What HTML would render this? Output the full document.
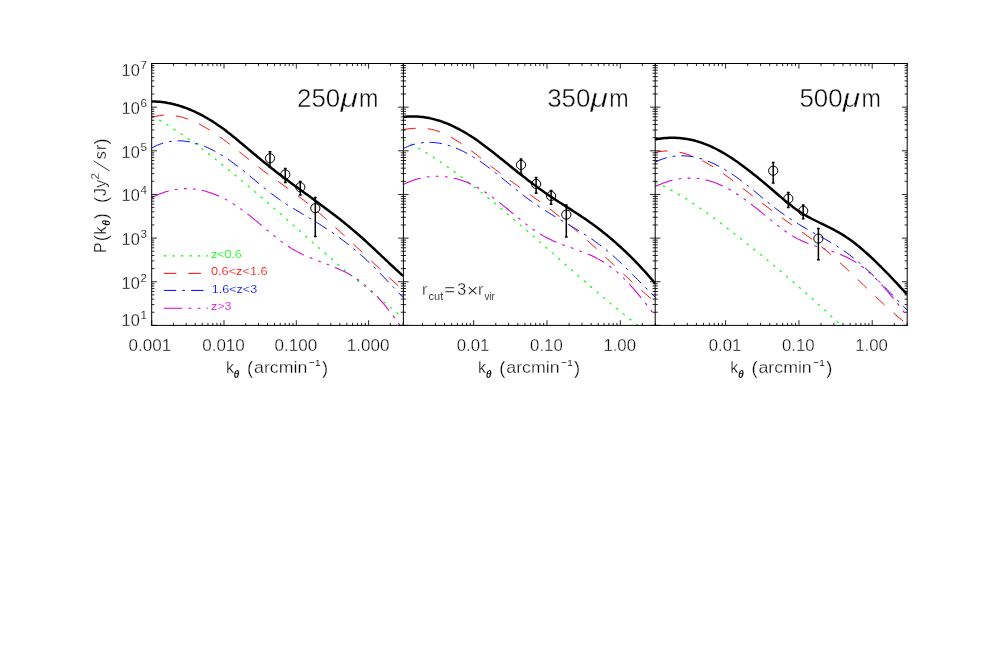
<!DOCTYPE html>
<html><head><meta charset="utf-8"><title>P(k) three bands</title>
<style>html,body{margin:0;padding:0;background:#fff;}body{width:1008px;height:654px;overflow:hidden;}svg{display:block;}text{font-family:"Liberation Sans",sans-serif;}</style>
</head><body>
<svg width="1008" height="654" viewBox="0 0 1008 654" style="will-change:transform">
<rect width="1008" height="654" fill="#fff"/>
<g>
<defs>
<clipPath id="cp0"><rect x="151.7" y="63.5" width="251.7" height="261.9"/></clipPath>
<clipPath id="cp1"><rect x="403.4" y="63.5" width="251.8" height="261.9"/></clipPath>
<clipPath id="cp2"><rect x="655.2" y="63.5" width="252.0" height="261.9"/></clipPath>
</defs>
<g clip-path="url(#cp0)" fill="none" stroke-linecap="butt" stroke-linejoin="round">
<path d="M151.7,115.8 L153.7,116.9 L155.7,118.0 L157.7,119.1 L159.7,120.3 L161.7,121.4 L163.7,122.6 L165.7,123.8 L167.7,125.0 L169.7,126.3 L171.7,127.6 L173.7,128.9 L175.7,130.2 L177.7,131.5 L179.7,132.8 L181.7,134.2 L183.7,135.6 L185.7,137.0 L187.7,138.4 L189.7,139.8 L191.7,141.2 L193.7,142.7 L195.7,144.1 L197.7,145.6 L199.7,147.1 L201.7,148.6 L203.7,150.1 L205.7,151.7 L207.7,153.2 L209.7,154.8 L211.7,156.3 L213.7,157.9 L215.7,159.5 L217.7,161.0 L219.7,162.6 L221.7,164.2 L223.7,165.8 L225.7,167.5 L227.7,169.1 L229.7,170.7 L231.7,172.3 L233.7,174.0 L235.7,175.6 L237.7,177.3 L239.7,178.9 L241.7,180.6 L243.7,182.2 L245.7,183.9 L247.7,185.6 L249.7,187.3 L251.7,189.0 L253.7,190.7 L255.7,192.4 L257.7,194.1 L259.7,195.8 L261.7,197.5 L263.7,199.2 L265.7,200.9 L267.7,202.7 L269.7,204.4 L271.7,206.2 L273.7,207.9 L275.7,209.7 L277.7,211.4 L279.7,213.2 L281.7,214.9 L283.7,216.7 L285.7,218.5 L287.7,220.2 L289.7,222.0 L291.7,223.8 L293.7,225.6 L295.7,227.4 L297.7,229.1 L299.7,230.9 L301.7,232.7 L303.7,234.5 L305.7,236.2 L307.7,238.0 L309.7,239.8 L311.7,241.6 L313.7,243.3 L315.7,245.1 L317.7,246.8 L319.7,248.6 L321.7,250.4 L323.7,252.1 L325.7,253.8 L327.7,255.6 L329.7,257.3 L331.7,259.0 L333.7,260.7 L335.7,262.4 L337.7,264.1 L339.7,265.8 L341.7,267.5 L343.7,269.2 L345.7,270.8 L347.7,272.5 L349.7,274.1 L351.7,275.8 L353.7,277.4 L355.7,279.1 L357.7,280.7 L359.7,282.3 L361.7,284.0 L363.7,285.6 L365.7,287.2 L367.7,288.9 L369.7,290.5 L371.7,292.1 L373.7,293.7 L375.7,295.4 L377.7,297.0 L379.7,298.6 L381.7,300.2 L383.7,301.9 L385.7,303.5 L387.7,305.2 L389.7,306.8 L391.7,308.4 L393.7,310.1 L395.7,311.8 L397.7,313.4 L399.7,315.1 L401.7,316.8 L403.1,318.0" stroke="#00ff00" stroke-width="1.2" stroke-dasharray="2.4 6.1"/>
<path d="M151.7,117.4 L153.7,116.8 L155.7,116.3 L157.7,115.9 L159.7,115.6 L161.7,115.3 L163.7,115.1 L165.7,115.1 L167.7,115.1 L169.7,115.1 L171.7,115.3 L173.7,115.5 L175.7,115.8 L177.7,116.2 L179.7,116.6 L181.7,117.1 L183.7,117.7 L185.7,118.3 L187.7,119.0 L189.7,119.8 L191.7,120.6 L193.7,121.4 L195.7,122.3 L197.7,123.3 L199.7,124.3 L201.7,125.4 L203.7,126.5 L205.7,127.7 L207.7,128.9 L209.7,130.1 L211.7,131.4 L213.7,132.7 L215.7,134.0 L217.7,135.4 L219.7,136.8 L221.7,138.2 L223.7,139.7 L225.7,141.2 L227.7,142.7 L229.7,144.2 L231.7,145.8 L233.7,147.3 L235.7,148.9 L237.7,150.5 L239.7,152.1 L241.7,153.7 L243.7,155.3 L245.7,156.9 L247.7,158.5 L249.7,160.1 L251.7,161.7 L253.7,163.3 L255.7,164.9 L257.7,166.4 L259.7,168.0 L261.7,169.5 L263.7,171.0 L265.7,172.5 L267.7,174.0 L269.7,175.5 L271.7,176.9 L273.7,178.4 L275.7,179.8 L277.7,181.2 L279.7,182.6 L281.7,184.0 L283.7,185.5 L285.7,186.9 L287.7,188.3 L289.7,189.7 L291.7,191.2 L293.7,192.6 L295.7,194.1 L297.7,195.6 L299.7,197.1 L301.7,198.7 L303.7,200.2 L305.7,201.8 L307.7,203.4 L309.7,205.1 L311.7,206.7 L313.7,208.4 L315.7,210.0 L317.7,211.7 L319.7,213.5 L321.7,215.2 L323.7,216.9 L325.7,218.7 L327.7,220.5 L329.7,222.2 L331.7,224.0 L333.7,225.8 L335.7,227.6 L337.7,229.5 L339.7,231.3 L341.7,233.2 L343.7,235.0 L345.7,236.9 L347.7,238.7 L349.7,240.6 L351.7,242.5 L353.7,244.3 L355.7,246.2 L357.7,248.1 L359.7,250.0 L361.7,251.9 L363.7,253.8 L365.7,255.7 L367.7,257.5 L369.7,259.4 L371.7,261.3 L373.7,263.2 L375.7,265.1 L377.7,266.9 L379.7,268.8 L381.7,270.7 L383.7,272.5 L385.7,274.4 L387.7,276.2 L389.7,278.0 L391.7,279.9 L393.7,281.7 L395.7,283.5 L397.7,285.3 L399.7,287.0 L401.7,288.8 L403.4,290.3" stroke="#ff0000" stroke-width="1.0" stroke-dasharray="12.5 12"/>
<path d="M151.7,148.0 L153.7,147.0 L155.7,146.0 L157.7,145.1 L159.7,144.3 L161.7,143.6 L163.7,143.0 L165.7,142.4 L167.7,142.0 L169.7,141.6 L171.7,141.3 L173.7,141.1 L175.7,140.9 L177.7,140.8 L179.7,140.8 L181.7,140.9 L183.7,141.0 L185.7,141.3 L187.7,141.5 L189.7,141.9 L191.7,142.3 L193.7,142.7 L195.7,143.3 L197.7,143.9 L199.7,144.5 L201.7,145.2 L203.7,146.0 L205.7,146.8 L207.7,147.7 L209.7,148.6 L211.7,149.6 L213.7,150.6 L215.7,151.7 L217.7,152.8 L219.7,154.0 L221.7,155.2 L223.7,156.4 L225.7,157.7 L227.7,159.1 L229.7,160.4 L231.7,161.9 L233.7,163.3 L235.7,164.8 L237.7,166.3 L239.7,167.9 L241.7,169.4 L243.7,171.0 L245.7,172.7 L247.7,174.3 L249.7,175.9 L251.7,177.6 L253.7,179.2 L255.7,180.9 L257.7,182.6 L259.7,184.2 L261.7,185.9 L263.7,187.5 L265.7,189.1 L267.7,190.7 L269.7,192.3 L271.7,193.8 L273.7,195.3 L275.7,196.8 L277.7,198.2 L279.7,199.7 L281.7,201.0 L283.7,202.4 L285.7,203.7 L287.7,205.0 L289.7,206.2 L291.7,207.5 L293.7,208.7 L295.7,209.9 L297.7,211.1 L299.7,212.3 L301.7,213.5 L303.7,214.7 L305.7,215.9 L307.7,217.0 L309.7,218.2 L311.7,219.4 L313.7,220.6 L315.7,221.8 L317.7,223.1 L319.7,224.3 L321.7,225.6 L323.7,226.9 L325.7,228.2 L327.7,229.5 L329.7,230.8 L331.7,232.2 L333.7,233.6 L335.7,235.0 L337.7,236.4 L339.7,237.9 L341.7,239.4 L343.7,240.9 L345.7,242.4 L347.7,243.9 L349.7,245.5 L351.7,247.1 L353.7,248.8 L355.7,250.5 L357.7,252.1 L359.7,253.9 L361.7,255.6 L363.7,257.4 L365.7,259.2 L367.7,261.1 L369.7,263.0 L371.7,264.9 L373.7,266.9 L375.7,268.8 L377.7,270.8 L379.7,272.9 L381.7,274.9 L383.7,277.0 L385.7,279.1 L387.7,281.2 L389.7,283.3 L391.7,285.4 L393.7,287.5 L395.7,289.6 L397.7,291.7 L399.7,293.9 L401.7,296.0 L403.4,297.8" stroke="#0000ff" stroke-width="1.0" stroke-dasharray="12.4 6.0 2.8 6.0"/>
<path d="M151.7,197.7 L153.7,196.7 L155.7,195.7 L157.7,194.8 L159.7,193.9 L161.7,193.2 L163.7,192.4 L165.7,191.8 L167.7,191.2 L169.7,190.7 L171.7,190.2 L173.7,189.8 L175.7,189.4 L177.7,189.2 L179.7,188.9 L181.7,188.8 L183.7,188.7 L185.7,188.6 L187.7,188.6 L189.7,188.7 L191.7,188.8 L193.7,189.0 L195.7,189.2 L197.7,189.5 L199.7,189.9 L201.7,190.3 L203.7,190.8 L205.7,191.3 L207.7,191.9 L209.7,192.5 L211.7,193.2 L213.7,193.9 L215.7,194.7 L217.7,195.5 L219.7,196.4 L221.7,197.4 L223.7,198.4 L225.7,199.4 L227.7,200.5 L229.7,201.7 L231.7,202.9 L233.7,204.1 L235.7,205.4 L237.7,206.8 L239.7,208.2 L241.7,209.6 L243.7,211.1 L245.7,212.6 L247.7,214.1 L249.7,215.7 L251.7,217.3 L253.7,218.9 L255.7,220.6 L257.7,222.2 L259.7,223.9 L261.7,225.5 L263.7,227.2 L265.7,228.9 L267.7,230.6 L269.7,232.3 L271.7,233.9 L273.7,235.5 L275.7,237.2 L277.7,238.7 L279.7,240.3 L281.7,241.8 L283.7,243.3 L285.7,244.7 L287.7,246.0 L289.7,247.3 L291.7,248.6 L293.7,249.7 L295.7,250.9 L297.7,251.9 L299.7,253.0 L301.7,253.9 L303.7,254.9 L305.7,255.8 L307.7,256.7 L309.7,257.5 L311.7,258.3 L313.7,259.1 L315.7,259.9 L317.7,260.7 L319.7,261.4 L321.7,262.2 L323.7,262.9 L325.7,263.7 L327.7,264.5 L329.7,265.2 L331.7,266.0 L333.7,266.9 L335.7,267.7 L337.7,268.5 L339.7,269.4 L341.7,270.4 L343.7,271.3 L345.7,272.3 L347.7,273.4 L349.7,274.5 L351.7,275.7 L353.7,276.9 L355.7,278.2 L357.7,279.5 L359.7,280.9 L361.7,282.4 L363.7,284.0 L365.7,285.6 L367.7,287.4 L369.7,289.2 L371.7,291.1 L373.7,293.1 L375.7,295.1 L377.7,297.2 L379.7,299.4 L381.7,301.7 L383.7,304.0 L385.7,306.4 L387.7,308.9 L389.7,311.4 L391.7,314.0 L393.7,316.6 L395.7,319.3 L397.7,322.0 L399.7,324.8 L401.0,326.7" stroke="#d000d0" stroke-width="1.05" stroke-dasharray="18.4 6.2 2.8 6.3 2.8 6.3 2.8 6.2"/>
<path d="M151.7,101.4 L153.7,101.4 L155.7,101.5 L157.7,101.7 L159.7,101.8 L161.7,102.0 L163.7,102.3 L165.7,102.6 L167.7,103.0 L169.7,103.3 L171.7,103.8 L173.7,104.2 L175.7,104.8 L177.7,105.3 L179.7,105.9 L181.7,106.5 L183.7,107.2 L185.7,107.9 L187.7,108.7 L189.7,109.5 L191.7,110.4 L193.7,111.2 L195.7,112.2 L197.7,113.1 L199.7,114.1 L201.7,115.2 L203.7,116.2 L205.7,117.4 L207.7,118.5 L209.7,119.7 L211.7,120.9 L213.7,122.2 L215.7,123.5 L217.7,124.9 L219.7,126.3 L221.7,127.7 L223.7,129.1 L225.7,130.6 L227.7,132.2 L229.7,133.7 L231.7,135.3 L233.7,136.9 L235.7,138.5 L237.7,140.2 L239.7,141.9 L241.7,143.5 L243.7,145.2 L245.7,146.9 L247.7,148.6 L249.7,150.3 L251.7,152.0 L253.7,153.7 L255.7,155.3 L257.7,157.0 L259.7,158.6 L261.7,160.3 L263.7,161.9 L265.7,163.5 L267.7,165.1 L269.7,166.7 L271.7,168.3 L273.7,169.8 L275.7,171.4 L277.7,172.9 L279.7,174.5 L281.7,176.0 L283.7,177.5 L285.7,179.0 L287.7,180.5 L289.7,182.0 L291.7,183.4 L293.7,184.9 L295.7,186.4 L297.7,187.8 L299.7,189.3 L301.7,190.8 L303.7,192.2 L305.7,193.7 L307.7,195.1 L309.7,196.6 L311.7,198.0 L313.7,199.5 L315.7,201.0 L317.7,202.4 L319.7,203.9 L321.7,205.4 L323.7,206.9 L325.7,208.4 L327.7,209.9 L329.7,211.4 L331.7,212.9 L333.7,214.5 L335.7,216.0 L337.7,217.6 L339.7,219.1 L341.7,220.7 L343.7,222.3 L345.7,223.9 L347.7,225.6 L349.7,227.2 L351.7,228.9 L353.7,230.6 L355.7,232.3 L357.7,234.0 L359.7,235.7 L361.7,237.5 L363.7,239.3 L365.7,241.1 L367.7,242.9 L369.7,244.8 L371.7,246.6 L373.7,248.5 L375.7,250.4 L377.7,252.3 L379.7,254.2 L381.7,256.1 L383.7,257.9 L385.7,259.8 L387.7,261.7 L389.7,263.6 L391.7,265.5 L393.7,267.3 L395.7,269.2 L397.7,271.0 L399.7,272.9 L401.7,274.7 L403.1,275.9" stroke="#000000" stroke-width="2.5"/>
</g>
<g clip-path="url(#cp1)" fill="none" stroke-linecap="butt" stroke-linejoin="round">
<path d="M403.4,139.7 L405.4,140.7 L407.4,141.8 L409.4,142.9 L411.4,144.0 L413.4,145.1 L415.4,146.3 L417.4,147.4 L419.4,148.6 L421.4,149.8 L423.4,151.0 L425.4,152.2 L427.4,153.5 L429.4,154.8 L431.4,156.0 L433.4,157.3 L435.4,158.6 L437.4,160.0 L439.4,161.3 L441.4,162.7 L443.4,164.0 L445.4,165.4 L447.4,166.8 L449.4,168.2 L451.4,169.6 L453.4,171.1 L455.4,172.5 L457.4,174.0 L459.4,175.4 L461.4,176.9 L463.4,178.4 L465.4,179.9 L467.4,181.5 L469.4,183.0 L471.4,184.5 L473.4,186.1 L475.4,187.7 L477.4,189.2 L479.4,190.8 L481.4,192.4 L483.4,194.0 L485.4,195.6 L487.4,197.2 L489.4,198.9 L491.4,200.5 L493.4,202.1 L495.4,203.8 L497.4,205.5 L499.4,207.1 L501.4,208.8 L503.4,210.5 L505.4,212.2 L507.4,213.9 L509.4,215.6 L511.4,217.3 L513.4,219.0 L515.4,220.7 L517.4,222.4 L519.4,224.1 L521.4,225.9 L523.4,227.6 L525.4,229.3 L527.4,231.1 L529.4,232.8 L531.4,234.6 L533.4,236.3 L535.4,238.1 L537.4,239.8 L539.4,241.6 L541.4,243.3 L543.4,245.1 L545.4,246.9 L547.4,248.6 L549.4,250.4 L551.4,252.2 L553.4,253.9 L555.4,255.7 L557.4,257.4 L559.4,259.2 L561.4,261.0 L563.4,262.7 L565.4,264.5 L567.4,266.3 L569.4,268.0 L571.4,269.8 L573.4,271.5 L575.4,273.3 L577.4,275.0 L579.4,276.8 L581.4,278.5 L583.4,280.3 L585.4,282.0 L587.4,283.7 L589.4,285.5 L591.4,287.2 L593.4,288.9 L595.4,290.6 L597.4,292.3 L599.4,294.0 L601.4,295.7 L603.4,297.4 L605.4,299.1 L607.4,300.8 L609.4,302.4 L611.4,304.1 L613.4,305.8 L615.4,307.4 L617.4,309.0 L619.4,310.7 L621.4,312.3 L623.4,313.9 L625.4,315.5 L627.4,317.1 L629.4,318.7 L631.4,320.3 L633.4,321.9 L635.4,323.4 L637.4,325.0 L639.0,326.2" stroke="#00ff00" stroke-width="1.2" stroke-dasharray="2.4 6.1"/>
<path d="M403.4,129.5 L405.4,129.2 L407.4,129.0 L409.4,128.7 L411.4,128.5 L413.4,128.4 L415.4,128.3 L417.4,128.2 L419.4,128.2 L421.4,128.2 L423.4,128.3 L425.4,128.5 L427.4,128.7 L429.4,129.0 L431.4,129.4 L433.4,129.8 L435.4,130.4 L437.4,131.0 L439.4,131.7 L441.4,132.5 L443.4,133.4 L445.4,134.3 L447.4,135.3 L449.4,136.3 L451.4,137.4 L453.4,138.6 L455.4,139.8 L457.4,141.0 L459.4,142.3 L461.4,143.6 L463.4,145.0 L465.4,146.4 L467.4,147.9 L469.4,149.3 L471.4,150.8 L473.4,152.4 L475.4,153.9 L477.4,155.4 L479.4,157.0 L481.4,158.6 L483.4,160.2 L485.4,161.7 L487.4,163.3 L489.4,164.9 L491.4,166.5 L493.4,168.0 L495.4,169.6 L497.4,171.1 L499.4,172.6 L501.4,174.1 L503.4,175.6 L505.4,177.1 L507.4,178.5 L509.4,180.0 L511.4,181.4 L513.4,182.8 L515.4,184.3 L517.4,185.7 L519.4,187.1 L521.4,188.5 L523.4,190.0 L525.4,191.4 L527.4,192.8 L529.4,194.2 L531.4,195.6 L533.4,197.0 L535.4,198.5 L537.4,199.9 L539.4,201.4 L541.4,202.8 L543.4,204.3 L545.4,205.7 L547.4,207.2 L549.4,208.7 L551.4,210.2 L553.4,211.8 L555.4,213.3 L557.4,214.9 L559.4,216.5 L561.4,218.1 L563.4,219.7 L565.4,221.4 L567.4,223.0 L569.4,224.7 L571.4,226.4 L573.4,228.1 L575.4,229.8 L577.4,231.6 L579.4,233.4 L581.4,235.1 L583.4,236.9 L585.4,238.7 L587.4,240.5 L589.4,242.3 L591.4,244.2 L593.4,246.0 L595.4,247.8 L597.4,249.7 L599.4,251.5 L601.4,253.4 L603.4,255.2 L605.4,257.1 L607.4,259.0 L609.4,260.8 L611.4,262.7 L613.4,264.6 L615.4,266.5 L617.4,268.3 L619.4,270.2 L621.4,272.0 L623.4,273.9 L625.4,275.7 L627.4,277.6 L629.4,279.4 L631.4,281.3 L633.4,283.1 L635.4,284.9 L637.4,286.7 L639.4,288.5 L641.4,290.3 L643.4,292.0 L645.4,293.8 L647.4,295.5 L649.4,297.2 L651.4,298.9 L653.4,300.6 L655.2,302.1" stroke="#ff0000" stroke-width="1.0" stroke-dasharray="12.5 12"/>
<path d="M403.4,148.4 L405.4,147.5 L407.4,146.6 L409.4,145.8 L411.4,145.1 L413.4,144.5 L415.4,144.0 L417.4,143.5 L419.4,143.1 L421.4,142.8 L423.4,142.6 L425.4,142.4 L427.4,142.3 L429.4,142.3 L431.4,142.4 L433.4,142.5 L435.4,142.7 L437.4,142.9 L439.4,143.2 L441.4,143.6 L443.4,144.0 L445.4,144.5 L447.4,145.1 L449.4,145.7 L451.4,146.4 L453.4,147.1 L455.4,147.9 L457.4,148.7 L459.4,149.6 L461.4,150.5 L463.4,151.5 L465.4,152.5 L467.4,153.6 L469.4,154.7 L471.4,155.9 L473.4,157.1 L475.4,158.3 L477.4,159.6 L479.4,160.9 L481.4,162.3 L483.4,163.7 L485.4,165.1 L487.4,166.6 L489.4,168.1 L491.4,169.6 L493.4,171.2 L495.4,172.8 L497.4,174.4 L499.4,176.0 L501.4,177.6 L503.4,179.2 L505.4,180.9 L507.4,182.5 L509.4,184.1 L511.4,185.8 L513.4,187.4 L515.4,189.0 L517.4,190.6 L519.4,192.2 L521.4,193.8 L523.4,195.4 L525.4,196.9 L527.4,198.4 L529.4,199.9 L531.4,201.3 L533.4,202.7 L535.4,204.1 L537.4,205.5 L539.4,206.8 L541.4,208.1 L543.4,209.4 L545.4,210.7 L547.4,211.9 L549.4,213.2 L551.4,214.4 L553.4,215.6 L555.4,216.8 L557.4,218.0 L559.4,219.2 L561.4,220.4 L563.4,221.6 L565.4,222.7 L567.4,223.9 L569.4,225.1 L571.4,226.3 L573.4,227.5 L575.4,228.7 L577.4,229.9 L579.4,231.1 L581.4,232.3 L583.4,233.6 L585.4,234.9 L587.4,236.2 L589.4,237.5 L591.4,238.9 L593.4,240.2 L595.4,241.7 L597.4,243.1 L599.4,244.6 L601.4,246.1 L603.4,247.7 L605.4,249.3 L607.4,250.9 L609.4,252.6 L611.4,254.4 L613.4,256.1 L615.4,257.9 L617.4,259.8 L619.4,261.6 L621.4,263.5 L623.4,265.5 L625.4,267.4 L627.4,269.4 L629.4,271.4 L631.4,273.4 L633.4,275.4 L635.4,277.4 L637.4,279.4 L639.4,281.4 L641.4,283.5 L643.4,285.5 L645.4,287.5 L647.4,289.4 L649.4,291.4 L651.4,293.4 L653.4,295.3 L655.2,297.0" stroke="#0000ff" stroke-width="1.0" stroke-dasharray="12.4 6.0 2.8 6.0"/>
<path d="M403.4,184.4 L405.4,183.5 L407.4,182.6 L409.4,181.7 L411.4,181.0 L413.4,180.3 L415.4,179.6 L417.4,179.0 L419.4,178.5 L421.4,178.0 L423.4,177.6 L425.4,177.2 L427.4,176.9 L429.4,176.7 L431.4,176.5 L433.4,176.3 L435.4,176.3 L437.4,176.2 L439.4,176.3 L441.4,176.4 L443.4,176.5 L445.4,176.7 L447.4,177.0 L449.4,177.3 L451.4,177.7 L453.4,178.1 L455.4,178.6 L457.4,179.1 L459.4,179.7 L461.4,180.3 L463.4,181.0 L465.4,181.8 L467.4,182.6 L469.4,183.5 L471.4,184.4 L473.4,185.4 L475.4,186.4 L477.4,187.5 L479.4,188.6 L481.4,189.8 L483.4,191.0 L485.4,192.3 L487.4,193.6 L489.4,195.0 L491.4,196.5 L493.4,197.9 L495.4,199.4 L497.4,201.0 L499.4,202.6 L501.4,204.1 L503.4,205.8 L505.4,207.4 L507.4,209.0 L509.4,210.7 L511.4,212.3 L513.4,214.0 L515.4,215.6 L517.4,217.3 L519.4,218.9 L521.4,220.5 L523.4,222.1 L525.4,223.7 L527.4,225.2 L529.4,226.7 L531.4,228.1 L533.4,229.6 L535.4,230.9 L537.4,232.3 L539.4,233.5 L541.4,234.7 L543.4,235.9 L545.4,237.0 L547.4,238.0 L549.4,239.0 L551.4,240.0 L553.4,240.9 L555.4,241.7 L557.4,242.6 L559.4,243.4 L561.4,244.1 L563.4,244.9 L565.4,245.6 L567.4,246.4 L569.4,247.1 L571.4,247.8 L573.4,248.5 L575.4,249.2 L577.4,250.0 L579.4,250.7 L581.4,251.5 L583.4,252.2 L585.4,253.0 L587.4,253.9 L589.4,254.7 L591.4,255.6 L593.4,256.5 L595.4,257.5 L597.4,258.6 L599.4,259.6 L601.4,260.8 L603.4,262.0 L605.4,263.2 L607.4,264.6 L609.4,266.0 L611.4,267.4 L613.4,269.0 L615.4,270.6 L617.4,272.3 L619.4,274.1 L621.4,276.0 L623.4,278.0 L625.4,280.0 L627.4,282.0 L629.4,284.2 L631.4,286.4 L633.4,288.6 L635.4,290.9 L637.4,293.3 L639.4,295.7 L641.4,298.1 L643.4,300.6 L645.4,303.1 L647.4,305.7 L649.4,308.3 L651.4,310.9 L653.4,313.6 L655.2,316.0" stroke="#d000d0" stroke-width="1.05" stroke-dasharray="18.4 6.2 2.8 6.3 2.8 6.3 2.8 6.2"/>
<path d="M403.4,116.9 L405.4,116.7 L407.4,116.5 L409.4,116.4 L411.4,116.4 L413.4,116.4 L415.4,116.4 L417.4,116.5 L419.4,116.7 L421.4,116.9 L423.4,117.1 L425.4,117.4 L427.4,117.7 L429.4,118.1 L431.4,118.6 L433.4,119.1 L435.4,119.6 L437.4,120.2 L439.4,120.8 L441.4,121.4 L443.4,122.2 L445.4,122.9 L447.4,123.7 L449.4,124.5 L451.4,125.4 L453.4,126.4 L455.4,127.3 L457.4,128.3 L459.4,129.4 L461.4,130.5 L463.4,131.6 L465.4,132.8 L467.4,134.0 L469.4,135.2 L471.4,136.5 L473.4,137.8 L475.4,139.1 L477.4,140.5 L479.4,141.9 L481.4,143.4 L483.4,144.9 L485.4,146.4 L487.4,147.9 L489.4,149.4 L491.4,151.0 L493.4,152.6 L495.4,154.2 L497.4,155.7 L499.4,157.4 L501.4,159.0 L503.4,160.6 L505.4,162.2 L507.4,163.8 L509.4,165.4 L511.4,167.0 L513.4,168.7 L515.4,170.3 L517.4,171.9 L519.4,173.4 L521.4,175.0 L523.4,176.6 L525.4,178.1 L527.4,179.7 L529.4,181.2 L531.4,182.7 L533.4,184.3 L535.4,185.7 L537.4,187.2 L539.4,188.7 L541.4,190.1 L543.4,191.5 L545.4,192.9 L547.4,194.3 L549.4,195.7 L551.4,197.0 L553.4,198.4 L555.4,199.7 L557.4,201.0 L559.4,202.3 L561.4,203.5 L563.4,204.8 L565.4,206.1 L567.4,207.4 L569.4,208.6 L571.4,209.9 L573.4,211.2 L575.4,212.5 L577.4,213.8 L579.4,215.1 L581.4,216.4 L583.4,217.8 L585.4,219.1 L587.4,220.5 L589.4,221.9 L591.4,223.3 L593.4,224.8 L595.4,226.2 L597.4,227.7 L599.4,229.2 L601.4,230.8 L603.4,232.4 L605.4,234.0 L607.4,235.6 L609.4,237.3 L611.4,238.9 L613.4,240.7 L615.4,242.4 L617.4,244.2 L619.4,246.0 L621.4,247.8 L623.4,249.7 L625.4,251.5 L627.4,253.5 L629.4,255.4 L631.4,257.4 L633.4,259.4 L635.4,261.5 L637.4,263.5 L639.4,265.6 L641.4,267.8 L643.4,270.0 L645.4,272.2 L647.4,274.4 L649.4,276.7 L651.4,279.0 L653.4,281.3 L655.2,283.4" stroke="#000000" stroke-width="2.5"/>
</g>
<g clip-path="url(#cp2)" fill="none" stroke-linecap="butt" stroke-linejoin="round">
<path d="M655.2,182.2 L657.2,183.0 L659.2,184.0 L661.2,184.9 L663.2,185.9 L665.2,186.9 L667.2,187.9 L669.2,189.0 L671.2,190.1 L673.2,191.2 L675.2,192.3 L677.2,193.5 L679.2,194.7 L681.2,195.9 L683.2,197.1 L685.2,198.3 L687.2,199.6 L689.2,200.9 L691.2,202.2 L693.2,203.5 L695.2,204.8 L697.2,206.2 L699.2,207.6 L701.2,209.0 L703.2,210.4 L705.2,211.8 L707.2,213.2 L709.2,214.7 L711.2,216.1 L713.2,217.6 L715.2,219.1 L717.2,220.6 L719.2,222.1 L721.2,223.6 L723.2,225.1 L725.2,226.6 L727.2,228.2 L729.2,229.7 L731.2,231.3 L733.2,232.8 L735.2,234.4 L737.2,236.0 L739.2,237.5 L741.2,239.1 L743.2,240.7 L745.2,242.3 L747.2,243.9 L749.2,245.5 L751.2,247.1 L753.2,248.7 L755.2,250.3 L757.2,251.9 L759.2,253.5 L761.2,255.1 L763.2,256.8 L765.2,258.4 L767.2,260.1 L769.2,261.7 L771.2,263.4 L773.2,265.0 L775.2,266.7 L777.2,268.4 L779.2,270.0 L781.2,271.7 L783.2,273.4 L785.2,275.1 L787.2,276.8 L789.2,278.5 L791.2,280.3 L793.2,282.0 L795.2,283.7 L797.2,285.5 L799.2,287.2 L801.2,289.0 L803.2,290.7 L805.2,292.5 L807.2,294.3 L809.2,296.0 L811.2,297.8 L813.2,299.6 L815.2,301.4 L817.2,303.3 L819.2,305.1 L821.2,306.9 L823.2,308.7 L825.2,310.6 L827.2,312.4 L829.2,314.3 L831.2,316.2 L833.2,318.0 L835.2,319.9 L837.2,321.8 L839.2,323.7 L841.2,325.6 L841.5,325.9" stroke="#00ff00" stroke-width="1.2" stroke-dasharray="2.4 6.1"/>
<path d="M655.2,152.5 L657.2,152.0 L659.2,151.7 L661.2,151.4 L663.2,151.2 L665.2,151.0 L667.2,151.0 L669.2,151.0 L671.2,151.1 L673.2,151.2 L675.2,151.5 L677.2,151.8 L679.2,152.1 L681.2,152.6 L683.2,153.1 L685.2,153.6 L687.2,154.3 L689.2,154.9 L691.2,155.7 L693.2,156.4 L695.2,157.3 L697.2,158.2 L699.2,159.1 L701.2,160.1 L703.2,161.1 L705.2,162.2 L707.2,163.3 L709.2,164.5 L711.2,165.7 L713.2,166.9 L715.2,168.2 L717.2,169.5 L719.2,170.8 L721.2,172.2 L723.2,173.5 L725.2,175.0 L727.2,176.4 L729.2,177.9 L731.2,179.4 L733.2,180.9 L735.2,182.4 L737.2,184.0 L739.2,185.5 L741.2,187.1 L743.2,188.6 L745.2,190.2 L747.2,191.7 L749.2,193.3 L751.2,194.8 L753.2,196.3 L755.2,197.9 L757.2,199.4 L759.2,200.9 L761.2,202.4 L763.2,203.9 L765.2,205.4 L767.2,206.9 L769.2,208.4 L771.2,209.9 L773.2,211.4 L775.2,212.8 L777.2,214.3 L779.2,215.8 L781.2,217.2 L783.2,218.7 L785.2,220.1 L787.2,221.5 L789.2,223.0 L791.2,224.4 L793.2,225.8 L795.2,227.2 L797.2,228.7 L799.2,230.1 L801.2,231.5 L803.2,232.9 L805.2,234.3 L807.2,235.8 L809.2,237.2 L811.2,238.7 L813.2,240.2 L815.2,241.7 L817.2,243.3 L819.2,244.9 L821.2,246.5 L823.2,248.1 L825.2,249.7 L827.2,251.4 L829.2,253.1 L831.2,254.8 L833.2,256.6 L835.2,258.4 L837.2,260.2 L839.2,262.0 L841.2,263.8 L843.2,265.7 L845.2,267.5 L847.2,269.4 L849.2,271.3 L851.2,273.2 L853.2,275.1 L855.2,277.0 L857.2,278.9 L859.2,280.9 L861.2,282.8 L863.2,284.7 L865.2,286.7 L867.2,288.6 L869.2,290.5 L871.2,292.4 L873.2,294.3 L875.2,296.2 L877.2,298.1 L879.2,300.0 L881.2,301.9 L883.2,303.7 L885.2,305.6 L887.2,307.4 L889.2,309.2 L891.2,311.0 L893.2,312.7 L895.2,314.4 L897.2,316.1 L899.2,317.8 L901.2,319.4 L903.2,321.1 L905.2,322.6 L907.2,324.2" stroke="#ff0000" stroke-width="1.0" stroke-dasharray="12.5 12"/>
<path d="M655.2,162.1 L657.2,161.2 L659.2,160.3 L661.2,159.5 L663.2,158.8 L665.2,158.1 L667.2,157.6 L669.2,157.1 L671.2,156.7 L673.2,156.4 L675.2,156.1 L677.2,155.9 L679.2,155.8 L681.2,155.7 L683.2,155.8 L685.2,155.9 L687.2,156.0 L689.2,156.2 L691.2,156.5 L693.2,156.8 L695.2,157.2 L697.2,157.7 L699.2,158.2 L701.2,158.8 L703.2,159.4 L705.2,160.1 L707.2,160.9 L709.2,161.7 L711.2,162.5 L713.2,163.4 L715.2,164.4 L717.2,165.4 L719.2,166.4 L721.2,167.5 L723.2,168.6 L725.2,169.8 L727.2,171.0 L729.2,172.3 L731.2,173.6 L733.2,174.9 L735.2,176.3 L737.2,177.7 L739.2,179.2 L741.2,180.7 L743.2,182.2 L745.2,183.8 L747.2,185.3 L749.2,186.9 L751.2,188.5 L753.2,190.2 L755.2,191.8 L757.2,193.5 L759.2,195.1 L761.2,196.8 L763.2,198.5 L765.2,200.1 L767.2,201.7 L769.2,203.4 L771.2,205.0 L773.2,206.6 L775.2,208.1 L777.2,209.7 L779.2,211.1 L781.2,212.6 L783.2,214.0 L785.2,215.4 L787.2,216.8 L789.2,218.2 L791.2,219.5 L793.2,220.8 L795.2,222.0 L797.2,223.3 L799.2,224.5 L801.2,225.7 L803.2,226.9 L805.2,228.1 L807.2,229.2 L809.2,230.3 L811.2,231.4 L813.2,232.6 L815.2,233.7 L817.2,234.8 L819.2,235.9 L821.2,237.0 L823.2,238.1 L825.2,239.2 L827.2,240.3 L829.2,241.5 L831.2,242.7 L833.2,243.9 L835.2,245.1 L837.2,246.3 L839.2,247.6 L841.2,248.9 L843.2,250.3 L845.2,251.7 L847.2,253.2 L849.2,254.6 L851.2,256.2 L853.2,257.7 L855.2,259.3 L857.2,261.0 L859.2,262.7 L861.2,264.4 L863.2,266.2 L865.2,268.0 L867.2,269.8 L869.2,271.7 L871.2,273.6 L873.2,275.5 L875.2,277.5 L877.2,279.4 L879.2,281.4 L881.2,283.5 L883.2,285.5 L885.2,287.6 L887.2,289.6 L889.2,291.7 L891.2,293.7 L893.2,295.8 L895.2,297.9 L897.2,300.0 L899.2,302.0 L901.2,304.1 L903.2,306.1 L905.2,308.1 L907.2,310.2" stroke="#0000ff" stroke-width="1.0" stroke-dasharray="12.4 6.0 2.8 6.0"/>
<path d="M655.2,186.5 L657.2,185.5 L659.2,184.7 L661.2,183.9 L663.2,183.1 L665.2,182.4 L667.2,181.7 L669.2,181.1 L671.2,180.6 L673.2,180.1 L675.2,179.6 L677.2,179.2 L679.2,178.9 L681.2,178.6 L683.2,178.4 L685.2,178.2 L687.2,178.1 L689.2,178.1 L691.2,178.1 L693.2,178.1 L695.2,178.2 L697.2,178.4 L699.2,178.7 L701.2,179.0 L703.2,179.3 L705.2,179.8 L707.2,180.2 L709.2,180.8 L711.2,181.4 L713.2,182.0 L715.2,182.8 L717.2,183.5 L719.2,184.4 L721.2,185.3 L723.2,186.2 L725.2,187.2 L727.2,188.2 L729.2,189.3 L731.2,190.5 L733.2,191.6 L735.2,192.9 L737.2,194.2 L739.2,195.5 L741.2,196.9 L743.2,198.3 L745.2,199.7 L747.2,201.2 L749.2,202.7 L751.2,204.2 L753.2,205.8 L755.2,207.3 L757.2,208.9 L759.2,210.5 L761.2,212.2 L763.2,213.8 L765.2,215.4 L767.2,217.1 L769.2,218.7 L771.2,220.4 L773.2,222.0 L775.2,223.6 L777.2,225.2 L779.2,226.7 L781.2,228.3 L783.2,229.8 L785.2,231.2 L787.2,232.6 L789.2,233.9 L791.2,235.2 L793.2,236.4 L795.2,237.5 L797.2,238.6 L799.2,239.6 L801.2,240.5 L803.2,241.4 L805.2,242.3 L807.2,243.1 L809.2,243.8 L811.2,244.6 L813.2,245.3 L815.2,246.0 L817.2,246.6 L819.2,247.3 L821.2,247.9 L823.2,248.6 L825.2,249.2 L827.2,249.8 L829.2,250.5 L831.2,251.1 L833.2,251.8 L835.2,252.5 L837.2,253.3 L839.2,254.0 L841.2,254.8 L843.2,255.7 L845.2,256.6 L847.2,257.5 L849.2,258.5 L851.2,259.6 L853.2,260.7 L855.2,261.9 L857.2,263.2 L859.2,264.5 L861.2,266.0 L863.2,267.5 L865.2,269.1 L867.2,270.7 L869.2,272.5 L871.2,274.3 L873.2,276.1 L875.2,278.1 L877.2,280.1 L879.2,282.1 L881.2,284.3 L883.2,286.5 L885.2,288.7 L887.2,291.0 L889.2,293.4 L891.2,295.8 L893.2,298.2 L895.2,300.7 L897.2,303.2 L899.2,305.8 L901.2,308.4 L903.2,311.0 L905.2,313.6 L906.9,315.9" stroke="#d000d0" stroke-width="1.05" stroke-dasharray="18.4 6.2 2.8 6.3 2.8 6.3 2.8 6.2"/>
<path d="M655.2,139.5 L657.2,139.1 L659.2,138.8 L661.2,138.5 L663.2,138.3 L665.2,138.1 L667.2,137.9 L669.2,137.8 L671.2,137.8 L673.2,137.8 L675.2,137.8 L677.2,137.9 L679.2,138.0 L681.2,138.2 L683.2,138.4 L685.2,138.7 L687.2,139.1 L689.2,139.4 L691.2,139.8 L693.2,140.3 L695.2,140.8 L697.2,141.4 L699.2,142.0 L701.2,142.6 L703.2,143.3 L705.2,144.1 L707.2,144.9 L709.2,145.7 L711.2,146.6 L713.2,147.5 L715.2,148.5 L717.2,149.5 L719.2,150.6 L721.2,151.7 L723.2,152.8 L725.2,154.0 L727.2,155.2 L729.2,156.5 L731.2,157.8 L733.2,159.1 L735.2,160.5 L737.2,161.8 L739.2,163.3 L741.2,164.7 L743.2,166.2 L745.2,167.7 L747.2,169.2 L749.2,170.7 L751.2,172.3 L753.2,173.9 L755.2,175.5 L757.2,177.1 L759.2,178.7 L761.2,180.4 L763.2,182.1 L765.2,183.7 L767.2,185.4 L769.2,187.1 L771.2,188.8 L773.2,190.5 L775.2,192.2 L777.2,194.0 L779.2,195.7 L781.2,197.4 L783.2,199.1 L785.2,200.8 L787.2,202.4 L789.2,204.0 L791.2,205.6 L793.2,207.2 L795.2,208.7 L797.2,210.1 L799.2,211.4 L801.2,212.7 L803.2,214.0 L805.2,215.2 L807.2,216.3 L809.2,217.4 L811.2,218.5 L813.2,219.5 L815.2,220.5 L817.2,221.5 L819.2,222.5 L821.2,223.5 L823.2,224.4 L825.2,225.4 L827.2,226.4 L829.2,227.4 L831.2,228.4 L833.2,229.4 L835.2,230.5 L837.2,231.6 L839.2,232.7 L841.2,233.9 L843.2,235.1 L845.2,236.4 L847.2,237.8 L849.2,239.1 L851.2,240.6 L853.2,242.1 L855.2,243.6 L857.2,245.2 L859.2,246.8 L861.2,248.5 L863.2,250.2 L865.2,251.9 L867.2,253.7 L869.2,255.5 L871.2,257.4 L873.2,259.2 L875.2,261.2 L877.2,263.1 L879.2,265.1 L881.2,267.0 L883.2,269.1 L885.2,271.1 L887.2,273.2 L889.2,275.2 L891.2,277.3 L893.2,279.5 L895.2,281.6 L897.2,283.7 L899.2,285.9 L901.2,288.1 L903.2,290.2 L905.2,292.4 L906.9,294.3" stroke="#000000" stroke-width="2.5"/>
</g>
<g fill="none" stroke="#000">
<circle cx="270.0" cy="158.3" r="4.6" stroke-width="1.0"/>
<path d="M270.0,151.8 V167.0 M268.6,151.8 h2.8 M268.6,167.0 h2.8" stroke-width="1.5"/>
<circle cx="285.3" cy="174.5" r="4.6" stroke-width="1.0"/>
<path d="M285.3,168.5 V182.5 M283.90000000000003,168.5 h2.8 M283.90000000000003,182.5 h2.8" stroke-width="1.5"/>
<circle cx="300.3" cy="187.2" r="4.6" stroke-width="1.0"/>
<path d="M300.3,181.4 V194.9 M298.90000000000003,181.4 h2.8 M298.90000000000003,194.9 h2.8" stroke-width="1.5"/>
<circle cx="315.3" cy="208.2" r="4.6" stroke-width="1.0"/>
<path d="M315.3,197.5 V236.4 M313.90000000000003,197.5 h2.8 M313.90000000000003,236.4 h2.8" stroke-width="1.5"/>
<circle cx="521.0" cy="164.9" r="4.6" stroke-width="1.0"/>
<path d="M521.0,159.0 V173.5 M519.6,159.0 h2.8 M519.6,173.5 h2.8" stroke-width="1.5"/>
<circle cx="536.1" cy="184.0" r="4.6" stroke-width="1.0"/>
<path d="M536.1,177.5 V193.2 M534.7,177.5 h2.8 M534.7,193.2 h2.8" stroke-width="1.5"/>
<circle cx="551.1" cy="196.0" r="4.6" stroke-width="1.0"/>
<path d="M551.1,190.6 V204.3 M549.7,190.6 h2.8 M549.7,204.3 h2.8" stroke-width="1.5"/>
<circle cx="566.3" cy="214.6" r="4.6" stroke-width="1.0"/>
<path d="M566.3,205.0 V237.1 M564.9,205.0 h2.8 M564.9,237.1 h2.8" stroke-width="1.5"/>
<circle cx="773.2" cy="170.7" r="4.6" stroke-width="1.0"/>
<path d="M773.2,162.5 V183.1 M771.8000000000001,162.5 h2.8 M771.8000000000001,183.1 h2.8" stroke-width="1.5"/>
<circle cx="788.3" cy="198.7" r="4.6" stroke-width="1.0"/>
<path d="M788.3,192.5 V207.6 M786.9,192.5 h2.8 M786.9,207.6 h2.8" stroke-width="1.5"/>
<circle cx="803.2" cy="210.9" r="4.6" stroke-width="1.0"/>
<path d="M803.2,204.9 V218.7 M801.8000000000001,204.9 h2.8 M801.8000000000001,218.7 h2.8" stroke-width="1.5"/>
<circle cx="818.4" cy="238.6" r="4.6" stroke-width="1.0"/>
<path d="M818.4,228.6 V259.7 M817.0,228.6 h2.8 M817.0,259.7 h2.8" stroke-width="1.5"/>
</g>
<path d="M151.7,325.40 h5.2 M151.7,312.26 h2.6 M151.7,304.57 h2.6 M151.7,299.12 h2.6 M151.7,294.89 h2.6 M151.7,291.43 h2.6 M151.7,288.51 h2.6 M151.7,285.98 h2.6 M151.7,283.75 h2.6 M151.7,281.75 h5.2 M151.7,268.61 h2.6 M151.7,260.92 h2.6 M151.7,255.47 h2.6 M151.7,251.24 h2.6 M151.7,247.78 h2.6 M151.7,244.86 h2.6 M151.7,242.33 h2.6 M151.7,240.10 h2.6 M151.7,238.10 h5.2 M151.7,224.96 h2.6 M151.7,217.27 h2.6 M151.7,211.82 h2.6 M151.7,207.59 h2.6 M151.7,204.13 h2.6 M151.7,201.21 h2.6 M151.7,198.68 h2.6 M151.7,196.45 h2.6 M151.7,194.45 h5.2 M151.7,181.31 h2.6 M151.7,173.62 h2.6 M151.7,168.17 h2.6 M151.7,163.94 h2.6 M151.7,160.48 h2.6 M151.7,157.56 h2.6 M151.7,155.03 h2.6 M151.7,152.80 h2.6 M151.7,150.80 h5.2 M151.7,137.66 h2.6 M151.7,129.97 h2.6 M151.7,124.52 h2.6 M151.7,120.29 h2.6 M151.7,116.83 h2.6 M151.7,113.91 h2.6 M151.7,111.38 h2.6 M151.7,109.15 h2.6 M151.7,107.15 h5.2 M151.7,94.01 h2.6 M151.7,86.32 h2.6 M151.7,80.87 h2.6 M151.7,76.64 h2.6 M151.7,73.18 h2.6 M151.7,70.26 h2.6 M151.7,67.73 h2.6 M151.7,65.50 h2.6 M151.7,63.50 h5.2 M403.4,325.40 h-5.2 M403.4,325.40 h5.2 M403.4,312.26 h-2.6 M403.4,312.26 h2.6 M403.4,304.57 h-2.6 M403.4,304.57 h2.6 M403.4,299.12 h-2.6 M403.4,299.12 h2.6 M403.4,294.89 h-2.6 M403.4,294.89 h2.6 M403.4,291.43 h-2.6 M403.4,291.43 h2.6 M403.4,288.51 h-2.6 M403.4,288.51 h2.6 M403.4,285.98 h-2.6 M403.4,285.98 h2.6 M403.4,283.75 h-2.6 M403.4,283.75 h2.6 M403.4,281.75 h-5.2 M403.4,281.75 h5.2 M403.4,268.61 h-2.6 M403.4,268.61 h2.6 M403.4,260.92 h-2.6 M403.4,260.92 h2.6 M403.4,255.47 h-2.6 M403.4,255.47 h2.6 M403.4,251.24 h-2.6 M403.4,251.24 h2.6 M403.4,247.78 h-2.6 M403.4,247.78 h2.6 M403.4,244.86 h-2.6 M403.4,244.86 h2.6 M403.4,242.33 h-2.6 M403.4,242.33 h2.6 M403.4,240.10 h-2.6 M403.4,240.10 h2.6 M403.4,238.10 h-5.2 M403.4,238.10 h5.2 M403.4,224.96 h-2.6 M403.4,224.96 h2.6 M403.4,217.27 h-2.6 M403.4,217.27 h2.6 M403.4,211.82 h-2.6 M403.4,211.82 h2.6 M403.4,207.59 h-2.6 M403.4,207.59 h2.6 M403.4,204.13 h-2.6 M403.4,204.13 h2.6 M403.4,201.21 h-2.6 M403.4,201.21 h2.6 M403.4,198.68 h-2.6 M403.4,198.68 h2.6 M403.4,196.45 h-2.6 M403.4,196.45 h2.6 M403.4,194.45 h-5.2 M403.4,194.45 h5.2 M403.4,181.31 h-2.6 M403.4,181.31 h2.6 M403.4,173.62 h-2.6 M403.4,173.62 h2.6 M403.4,168.17 h-2.6 M403.4,168.17 h2.6 M403.4,163.94 h-2.6 M403.4,163.94 h2.6 M403.4,160.48 h-2.6 M403.4,160.48 h2.6 M403.4,157.56 h-2.6 M403.4,157.56 h2.6 M403.4,155.03 h-2.6 M403.4,155.03 h2.6 M403.4,152.80 h-2.6 M403.4,152.80 h2.6 M403.4,150.80 h-5.2 M403.4,150.80 h5.2 M403.4,137.66 h-2.6 M403.4,137.66 h2.6 M403.4,129.97 h-2.6 M403.4,129.97 h2.6 M403.4,124.52 h-2.6 M403.4,124.52 h2.6 M403.4,120.29 h-2.6 M403.4,120.29 h2.6 M403.4,116.83 h-2.6 M403.4,116.83 h2.6 M403.4,113.91 h-2.6 M403.4,113.91 h2.6 M403.4,111.38 h-2.6 M403.4,111.38 h2.6 M403.4,109.15 h-2.6 M403.4,109.15 h2.6 M403.4,107.15 h-5.2 M403.4,107.15 h5.2 M403.4,94.01 h-2.6 M403.4,94.01 h2.6 M403.4,86.32 h-2.6 M403.4,86.32 h2.6 M403.4,80.87 h-2.6 M403.4,80.87 h2.6 M403.4,76.64 h-2.6 M403.4,76.64 h2.6 M403.4,73.18 h-2.6 M403.4,73.18 h2.6 M403.4,70.26 h-2.6 M403.4,70.26 h2.6 M403.4,67.73 h-2.6 M403.4,67.73 h2.6 M403.4,65.50 h-2.6 M403.4,65.50 h2.6 M403.4,63.50 h-5.2 M403.4,63.50 h5.2 M655.2,325.40 h-5.2 M655.2,325.40 h5.2 M655.2,312.26 h-2.6 M655.2,312.26 h2.6 M655.2,304.57 h-2.6 M655.2,304.57 h2.6 M655.2,299.12 h-2.6 M655.2,299.12 h2.6 M655.2,294.89 h-2.6 M655.2,294.89 h2.6 M655.2,291.43 h-2.6 M655.2,291.43 h2.6 M655.2,288.51 h-2.6 M655.2,288.51 h2.6 M655.2,285.98 h-2.6 M655.2,285.98 h2.6 M655.2,283.75 h-2.6 M655.2,283.75 h2.6 M655.2,281.75 h-5.2 M655.2,281.75 h5.2 M655.2,268.61 h-2.6 M655.2,268.61 h2.6 M655.2,260.92 h-2.6 M655.2,260.92 h2.6 M655.2,255.47 h-2.6 M655.2,255.47 h2.6 M655.2,251.24 h-2.6 M655.2,251.24 h2.6 M655.2,247.78 h-2.6 M655.2,247.78 h2.6 M655.2,244.86 h-2.6 M655.2,244.86 h2.6 M655.2,242.33 h-2.6 M655.2,242.33 h2.6 M655.2,240.10 h-2.6 M655.2,240.10 h2.6 M655.2,238.10 h-5.2 M655.2,238.10 h5.2 M655.2,224.96 h-2.6 M655.2,224.96 h2.6 M655.2,217.27 h-2.6 M655.2,217.27 h2.6 M655.2,211.82 h-2.6 M655.2,211.82 h2.6 M655.2,207.59 h-2.6 M655.2,207.59 h2.6 M655.2,204.13 h-2.6 M655.2,204.13 h2.6 M655.2,201.21 h-2.6 M655.2,201.21 h2.6 M655.2,198.68 h-2.6 M655.2,198.68 h2.6 M655.2,196.45 h-2.6 M655.2,196.45 h2.6 M655.2,194.45 h-5.2 M655.2,194.45 h5.2 M655.2,181.31 h-2.6 M655.2,181.31 h2.6 M655.2,173.62 h-2.6 M655.2,173.62 h2.6 M655.2,168.17 h-2.6 M655.2,168.17 h2.6 M655.2,163.94 h-2.6 M655.2,163.94 h2.6 M655.2,160.48 h-2.6 M655.2,160.48 h2.6 M655.2,157.56 h-2.6 M655.2,157.56 h2.6 M655.2,155.03 h-2.6 M655.2,155.03 h2.6 M655.2,152.80 h-2.6 M655.2,152.80 h2.6 M655.2,150.80 h-5.2 M655.2,150.80 h5.2 M655.2,137.66 h-2.6 M655.2,137.66 h2.6 M655.2,129.97 h-2.6 M655.2,129.97 h2.6 M655.2,124.52 h-2.6 M655.2,124.52 h2.6 M655.2,120.29 h-2.6 M655.2,120.29 h2.6 M655.2,116.83 h-2.6 M655.2,116.83 h2.6 M655.2,113.91 h-2.6 M655.2,113.91 h2.6 M655.2,111.38 h-2.6 M655.2,111.38 h2.6 M655.2,109.15 h-2.6 M655.2,109.15 h2.6 M655.2,107.15 h-5.2 M655.2,107.15 h5.2 M655.2,94.01 h-2.6 M655.2,94.01 h2.6 M655.2,86.32 h-2.6 M655.2,86.32 h2.6 M655.2,80.87 h-2.6 M655.2,80.87 h2.6 M655.2,76.64 h-2.6 M655.2,76.64 h2.6 M655.2,73.18 h-2.6 M655.2,73.18 h2.6 M655.2,70.26 h-2.6 M655.2,70.26 h2.6 M655.2,67.73 h-2.6 M655.2,67.73 h2.6 M655.2,65.50 h-2.6 M655.2,65.50 h2.6 M655.2,63.50 h-5.2 M655.2,63.50 h5.2 M907.2,325.40 h-5.2 M907.2,312.26 h-2.6 M907.2,304.57 h-2.6 M907.2,299.12 h-2.6 M907.2,294.89 h-2.6 M907.2,291.43 h-2.6 M907.2,288.51 h-2.6 M907.2,285.98 h-2.6 M907.2,283.75 h-2.6 M907.2,281.75 h-5.2 M907.2,268.61 h-2.6 M907.2,260.92 h-2.6 M907.2,255.47 h-2.6 M907.2,251.24 h-2.6 M907.2,247.78 h-2.6 M907.2,244.86 h-2.6 M907.2,242.33 h-2.6 M907.2,240.10 h-2.6 M907.2,238.10 h-5.2 M907.2,224.96 h-2.6 M907.2,217.27 h-2.6 M907.2,211.82 h-2.6 M907.2,207.59 h-2.6 M907.2,204.13 h-2.6 M907.2,201.21 h-2.6 M907.2,198.68 h-2.6 M907.2,196.45 h-2.6 M907.2,194.45 h-5.2 M907.2,181.31 h-2.6 M907.2,173.62 h-2.6 M907.2,168.17 h-2.6 M907.2,163.94 h-2.6 M907.2,160.48 h-2.6 M907.2,157.56 h-2.6 M907.2,155.03 h-2.6 M907.2,152.80 h-2.6 M907.2,150.80 h-5.2 M907.2,137.66 h-2.6 M907.2,129.97 h-2.6 M907.2,124.52 h-2.6 M907.2,120.29 h-2.6 M907.2,116.83 h-2.6 M907.2,113.91 h-2.6 M907.2,111.38 h-2.6 M907.2,109.15 h-2.6 M907.2,107.15 h-5.2 M907.2,94.01 h-2.6 M907.2,86.32 h-2.6 M907.2,80.87 h-2.6 M907.2,76.64 h-2.6 M907.2,73.18 h-2.6 M907.2,70.26 h-2.6 M907.2,67.73 h-2.6 M907.2,65.50 h-2.6 M907.2,63.50 h-5.2 M151.70,325.4 v-5.2 M151.70,63.5 v5.2 M173.46,325.4 v-2.6 M173.46,63.5 v2.6 M186.20,325.4 v-2.6 M186.20,63.5 v2.6 M195.23,325.4 v-2.6 M195.23,63.5 v2.6 M202.24,325.4 v-2.6 M202.24,63.5 v2.6 M207.96,325.4 v-2.6 M207.96,63.5 v2.6 M212.80,325.4 v-2.6 M212.80,63.5 v2.6 M216.99,325.4 v-2.6 M216.99,63.5 v2.6 M220.69,325.4 v-2.6 M220.69,63.5 v2.6 M224.00,325.4 v-5.2 M224.00,63.5 v5.2 M245.76,325.4 v-2.6 M245.76,63.5 v2.6 M258.50,325.4 v-2.6 M258.50,63.5 v2.6 M267.53,325.4 v-2.6 M267.53,63.5 v2.6 M274.54,325.4 v-2.6 M274.54,63.5 v2.6 M280.26,325.4 v-2.6 M280.26,63.5 v2.6 M285.10,325.4 v-2.6 M285.10,63.5 v2.6 M289.29,325.4 v-2.6 M289.29,63.5 v2.6 M292.99,325.4 v-2.6 M292.99,63.5 v2.6 M296.30,325.4 v-5.2 M296.30,63.5 v5.2 M318.06,325.4 v-2.6 M318.06,63.5 v2.6 M330.80,325.4 v-2.6 M330.80,63.5 v2.6 M339.83,325.4 v-2.6 M339.83,63.5 v2.6 M346.84,325.4 v-2.6 M346.84,63.5 v2.6 M352.56,325.4 v-2.6 M352.56,63.5 v2.6 M357.40,325.4 v-2.6 M357.40,63.5 v2.6 M361.59,325.4 v-2.6 M361.59,63.5 v2.6 M365.29,325.4 v-2.6 M365.29,63.5 v2.6 M368.60,325.4 v-5.2 M368.60,63.5 v5.2 M390.36,325.4 v-2.6 M390.36,63.5 v2.6 M403.10,325.4 v-2.6 M403.10,63.5 v2.6 M422.47,325.4 v-2.6 M422.47,63.5 v2.6 M435.37,325.4 v-2.6 M435.37,63.5 v2.6 M444.53,325.4 v-2.6 M444.53,63.5 v2.6 M451.63,325.4 v-2.6 M451.63,63.5 v2.6 M457.44,325.4 v-2.6 M457.44,63.5 v2.6 M462.35,325.4 v-2.6 M462.35,63.5 v2.6 M466.60,325.4 v-2.6 M466.60,63.5 v2.6 M470.35,325.4 v-2.6 M470.35,63.5 v2.6 M473.70,325.4 v-5.2 M473.70,63.5 v5.2 M495.77,325.4 v-2.6 M495.77,63.5 v2.6 M508.67,325.4 v-2.6 M508.67,63.5 v2.6 M517.83,325.4 v-2.6 M517.83,63.5 v2.6 M524.93,325.4 v-2.6 M524.93,63.5 v2.6 M530.74,325.4 v-2.6 M530.74,63.5 v2.6 M535.65,325.4 v-2.6 M535.65,63.5 v2.6 M539.90,325.4 v-2.6 M539.90,63.5 v2.6 M543.65,325.4 v-2.6 M543.65,63.5 v2.6 M547.00,325.4 v-5.2 M547.00,63.5 v5.2 M569.07,325.4 v-2.6 M569.07,63.5 v2.6 M581.97,325.4 v-2.6 M581.97,63.5 v2.6 M591.13,325.4 v-2.6 M591.13,63.5 v2.6 M598.23,325.4 v-2.6 M598.23,63.5 v2.6 M604.04,325.4 v-2.6 M604.04,63.5 v2.6 M608.95,325.4 v-2.6 M608.95,63.5 v2.6 M613.20,325.4 v-2.6 M613.20,63.5 v2.6 M616.95,325.4 v-2.6 M616.95,63.5 v2.6 M620.30,325.4 v-5.2 M620.30,63.5 v5.2 M642.37,325.4 v-2.6 M642.37,63.5 v2.6 M655.27,325.4 v-2.6 M655.27,63.5 v2.6 M674.37,325.4 v-2.6 M674.37,63.5 v2.6 M687.27,325.4 v-2.6 M687.27,63.5 v2.6 M696.43,325.4 v-2.6 M696.43,63.5 v2.6 M703.53,325.4 v-2.6 M703.53,63.5 v2.6 M709.34,325.4 v-2.6 M709.34,63.5 v2.6 M714.25,325.4 v-2.6 M714.25,63.5 v2.6 M718.50,325.4 v-2.6 M718.50,63.5 v2.6 M722.25,325.4 v-2.6 M722.25,63.5 v2.6 M725.60,325.4 v-5.2 M725.60,63.5 v5.2 M747.67,325.4 v-2.6 M747.67,63.5 v2.6 M760.57,325.4 v-2.6 M760.57,63.5 v2.6 M769.73,325.4 v-2.6 M769.73,63.5 v2.6 M776.83,325.4 v-2.6 M776.83,63.5 v2.6 M782.64,325.4 v-2.6 M782.64,63.5 v2.6 M787.55,325.4 v-2.6 M787.55,63.5 v2.6 M791.80,325.4 v-2.6 M791.80,63.5 v2.6 M795.55,325.4 v-2.6 M795.55,63.5 v2.6 M798.90,325.4 v-5.2 M798.90,63.5 v5.2 M820.97,325.4 v-2.6 M820.97,63.5 v2.6 M833.87,325.4 v-2.6 M833.87,63.5 v2.6 M843.03,325.4 v-2.6 M843.03,63.5 v2.6 M850.13,325.4 v-2.6 M850.13,63.5 v2.6 M855.94,325.4 v-2.6 M855.94,63.5 v2.6 M860.85,325.4 v-2.6 M860.85,63.5 v2.6 M865.10,325.4 v-2.6 M865.10,63.5 v2.6 M868.85,325.4 v-2.6 M868.85,63.5 v2.6 M872.20,325.4 v-5.2 M872.20,63.5 v5.2 M894.27,325.4 v-2.6 M894.27,63.5 v2.6 M907.17,325.4 v-2.6 M907.17,63.5 v2.6" stroke="#000" stroke-width="0.85" fill="none"/>
<path d="M151.7,63.5 H907.2 M151.7,325.4 H907.2 M151.7,62.9 V326.0 M403.4,62.9 V326.0 M655.2,62.9 V326.0 M907.2,62.9 V326.0" stroke="#000" stroke-width="1.0" fill="none"/>
<g fill="#050505" stroke="#fff" stroke-width="0.3">
<text x="121.6" y="75.7" font-size="16" textLength="18.2" lengthAdjust="spacingAndGlyphs">10</text>
<text x="140.6" y="68.7" font-size="11.6" stroke-width="0.15">7</text>
<text x="121.6" y="114.2" font-size="16" textLength="18.2" lengthAdjust="spacingAndGlyphs">10</text>
<text x="140.6" y="107.2" font-size="11.6" stroke-width="0.15">6</text>
<text x="121.6" y="157.8" font-size="16" textLength="18.2" lengthAdjust="spacingAndGlyphs">10</text>
<text x="140.6" y="150.8" font-size="11.6" stroke-width="0.15">5</text>
<text x="121.6" y="201.4" font-size="16" textLength="18.2" lengthAdjust="spacingAndGlyphs">10</text>
<text x="140.6" y="194.4" font-size="11.6" stroke-width="0.15">4</text>
<text x="121.6" y="245.3" font-size="16" textLength="18.2" lengthAdjust="spacingAndGlyphs">10</text>
<text x="140.6" y="238.3" font-size="11.6" stroke-width="0.15">3</text>
<text x="121.6" y="289.2" font-size="16" textLength="18.2" lengthAdjust="spacingAndGlyphs">10</text>
<text x="140.6" y="282.2" font-size="11.6" stroke-width="0.15">2</text>
<text x="121.6" y="326.1" font-size="16" textLength="18.2" lengthAdjust="spacingAndGlyphs">10</text>
<text x="140.6" y="319.1" font-size="11.6" stroke-width="0.15">1</text>
<text x="149.8" y="351.1" font-size="16" text-anchor="middle" textLength="42.6" lengthAdjust="spacingAndGlyphs">0.001</text>
<text x="223.5" y="351.1" font-size="16" text-anchor="middle" textLength="42.6" lengthAdjust="spacingAndGlyphs">0.010</text>
<text x="295.8" y="351.1" font-size="16" text-anchor="middle" textLength="42.6" lengthAdjust="spacingAndGlyphs">0.100</text>
<text x="368.1" y="351.1" font-size="16" text-anchor="middle" textLength="42.6" lengthAdjust="spacingAndGlyphs">1.000</text>
<text x="473.1" y="351.1" font-size="16" text-anchor="middle" textLength="32.6" lengthAdjust="spacingAndGlyphs">0.01</text>
<text x="546.4" y="351.1" font-size="16" text-anchor="middle" textLength="32.6" lengthAdjust="spacingAndGlyphs">0.10</text>
<text x="619.7" y="351.1" font-size="16" text-anchor="middle" textLength="32.6" lengthAdjust="spacingAndGlyphs">1.00</text>
<text x="725.0" y="351.1" font-size="16" text-anchor="middle" textLength="32.6" lengthAdjust="spacingAndGlyphs">0.01</text>
<text x="798.3" y="351.1" font-size="16" text-anchor="middle" textLength="32.6" lengthAdjust="spacingAndGlyphs">0.10</text>
<text x="871.6" y="351.1" font-size="16" text-anchor="middle" textLength="32.6" lengthAdjust="spacingAndGlyphs">1.00</text>
<text x="225.9" y="373.0" font-size="16">k</text>
<text x="233.5" y="377.6" font-size="10.5" font-weight="bold" font-style="italic" stroke-width="0.1">&#952;</text>
<text x="247.1" y="374.2" font-size="18.4">(</text>
<text x="254.1" y="373.0" font-size="16" textLength="53.2" lengthAdjust="spacingAndGlyphs">arcmin</text>
<text x="309.1" y="366.2" font-size="9.8" stroke-width="0.1" textLength="11.4" lengthAdjust="spacingAndGlyphs">&#8722;1</text>
<text x="321.9" y="374.2" font-size="18.4">)</text>
<text x="478.1" y="373.0" font-size="16">k</text>
<text x="485.7" y="377.6" font-size="10.5" font-weight="bold" font-style="italic" stroke-width="0.1">&#952;</text>
<text x="499.3" y="374.2" font-size="18.4">(</text>
<text x="506.3" y="373.0" font-size="16" textLength="53.2" lengthAdjust="spacingAndGlyphs">arcmin</text>
<text x="561.3" y="366.2" font-size="9.8" stroke-width="0.1" textLength="11.4" lengthAdjust="spacingAndGlyphs">&#8722;1</text>
<text x="574.1" y="374.2" font-size="18.4">)</text>
<text x="730.3" y="373.0" font-size="16">k</text>
<text x="737.9" y="377.6" font-size="10.5" font-weight="bold" font-style="italic" stroke-width="0.1">&#952;</text>
<text x="751.5" y="374.2" font-size="18.4">(</text>
<text x="758.5" y="373.0" font-size="16" textLength="53.2" lengthAdjust="spacingAndGlyphs">arcmin</text>
<text x="813.5" y="366.2" font-size="9.8" stroke-width="0.1" textLength="11.4" lengthAdjust="spacingAndGlyphs">&#8722;1</text>
<text x="826.3" y="374.2" font-size="18.4">)</text>
<g transform="translate(106.0,252.0) rotate(-90)" text-anchor="middle" font-size="16">
<text x="4.4" y="0">P</text>
<text x="13.9" y="1.2" font-size="18.4">(</text>
<text x="21.5" y="0">k</text>
<text x="35.9" y="1.2" font-size="18.4">)</text>
<text x="52.2" y="1.2" font-size="18.4">(</text>
<text x="60.0" y="0">J</text>
<text x="68.3" y="0">y</text>
<text x="96.7" y="0">s</text>
<text x="104.6" y="0">r</text>
<text x="110.6" y="1.2" font-size="18.4">)</text>
<text x="29.3" y="4.4" font-size="10.5" font-weight="bold" font-style="italic" stroke-width="0.1">&#952;</text>
<text x="75.8" y="-6.8" font-size="11.4" stroke-width="0.2">2</text>
<path d="M81.0,3.6 L91.2,-12.4" stroke="#3a3a3a" stroke-width="1.0" fill="none"/>
</g>
<text x="422.0" y="295.3" font-size="16">r</text>
<text x="428.6" y="299.6" font-size="10.8" stroke-width="0.15" textLength="14.6" lengthAdjust="spacingAndGlyphs">cut</text>
<text x="444.2" y="295.3" font-size="16" textLength="10.8" lengthAdjust="spacingAndGlyphs">=</text>
<text x="457.2" y="295.3" font-size="16">3</text>
<path d="M468.8,287.2 L476.4,294.2 M476.4,287.2 L468.8,294.2" stroke="#2a2a2a" stroke-width="1.05" fill="none"/>
<text x="477.9" y="295.3" font-size="16">r</text>
<text x="484.4" y="299.6" font-size="10.8" stroke-width="0.15" textLength="10.4" lengthAdjust="spacingAndGlyphs">vir</text>
</g>
<g fill="#0a0a0a" font-size="25" stroke="#fff" stroke-width="0.4">
<text x="297.0" y="107.4" textLength="43.2" lengthAdjust="spacingAndGlyphs">250</text>
<text x="340.4" y="107.4" font-style="italic" textLength="17.4" lengthAdjust="spacingAndGlyphs">&#956;</text>
<text x="359.0" y="107.4" textLength="19.4" lengthAdjust="spacingAndGlyphs">m</text>
<text x="547.2" y="107.4" textLength="43.2" lengthAdjust="spacingAndGlyphs">350</text>
<text x="590.6" y="107.4" font-style="italic" textLength="17.4" lengthAdjust="spacingAndGlyphs">&#956;</text>
<text x="609.2" y="107.4" textLength="19.4" lengthAdjust="spacingAndGlyphs">m</text>
<text x="799.4" y="107.4" textLength="43.2" lengthAdjust="spacingAndGlyphs">500</text>
<text x="842.8" y="107.4" font-style="italic" textLength="17.4" lengthAdjust="spacingAndGlyphs">&#956;</text>
<text x="861.4" y="107.4" textLength="19.4" lengthAdjust="spacingAndGlyphs">m</text>
</g>
<path d="M163.9,255.8 H208.2" stroke="#00ff00" stroke-width="1.2" stroke-dasharray="2.4 6.1" fill="none"/>
<text x="211.0" y="257.6" font-size="11.6" fill="#00ff00" stroke="#fff" stroke-width="0.15" textLength="30.8" lengthAdjust="spacingAndGlyphs">z&lt;0.6</text>
<path d="M163.9,273.35 H201.0" stroke="#ff0000" stroke-width="1.0" stroke-dasharray="12.5 12" fill="none"/>
<text x="211.0" y="275.4" font-size="11.6" fill="#ff0000" stroke="#fff" stroke-width="0.15" textLength="56.6" lengthAdjust="spacingAndGlyphs">0.6&lt;z&lt;1.6</text>
<path d="M163.9,290.4 H203.8" stroke="#0000ff" stroke-width="1.0" stroke-dasharray="12.4 6.0 2.8 6.0" fill="none"/>
<text x="211.8" y="292.6" font-size="11.6" fill="#0000ff" stroke="#fff" stroke-width="0.15" textLength="45.4" lengthAdjust="spacingAndGlyphs">1.6&lt;z&lt;3</text>
<path d="M163.9,308.2 H208.2" stroke="#d000d0" stroke-width="1.05" stroke-dasharray="18.4 6.2 2.8 6.3 2.8 6.3 2.8 6.2" fill="none"/>
<text x="211.0" y="310.2" font-size="11.6" fill="#d000d0" stroke="#fff" stroke-width="0.15" textLength="20.4" lengthAdjust="spacingAndGlyphs">z&gt;3</text>
</g>
</svg></body></html>
